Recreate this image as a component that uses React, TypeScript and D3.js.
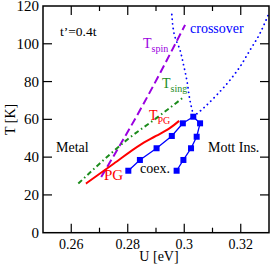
import React from "react";
import * as d3 from "d3";

const xMajorTicks = [0.26, 0.28, 0.3, 0.32];
const xMinorTicks = [0.27, 0.29, 0.31];
const yTicks = [0, 20, 40, 60, 80, 100, 120];

const coexU = [0.2802, 0.2843, 0.2902, 0.2956, 0.2995, 0.3032, 0.3056, 0.3044, 0.3024, 0.2997, 0.2973];
const coexT = [32.8, 38.5, 44.7, 51.2, 57.9, 61.4, 57.9, 50.8, 44.7, 38.5, 32.8];

const pgU = [0.2652, 0.275, 0.2843, 0.29, 0.295, 0.2982];
const pgT = [26, 36.5, 46.4, 51.2, 55.5, 59.2];

const singU = [0.2625, 0.27, 0.28, 0.29, 0.3];
const singT = [26, 36.5, 49.5, 60.5, 72];

const spinU = [0.2706, 0.2855, 0.3003];
const spinT = [29.5, 68, 110];

const crossLeftU = [0.2956, 0.2967, 0.2985, 0.2995, 0.3009, 0.302, 0.303, 0.3032];
const crossLeftT = [115.5, 103.7, 96.7, 90.5, 80.8, 70.2, 63.2, 61.4];

const crossRightU = [0.3032, 0.3067, 0.3115, 0.3162, 0.3197, 0.3233, 0.3268, 0.3297];
const crossRightT = [61.4, 65.8, 72.9, 80.8, 87.8, 96.7, 105.5, 115.2];

const W = 273, H = 266;
const L = 43, R = 269, T = 6, B = 232.7;
const FONT = "'Liberation Serif', 'Times New Roman', serif";

export default function App() {
  const x = d3.scaleLinear().domain([0.25, 0.33]).range([L, R]);
  const y = d3.scaleLinear().domain([0, 120]).range([B, T]);
  const line = (us: number[], ts: number[], curve = d3.curveLinear) =>
    d3.line<number>().x((_, i) => x(us[i])).y((_, i) => y(ts[i])).curve(curve)(us.map((_, i) => i)) || "";

  const blue = "#0000ff";
  return (
    <svg width={W} height={H} style={{ position: "absolute", left: 0, top: 0, background: "#fff" }} fontFamily={FONT}>
      <defs>
        <clipPath id="plot"><rect x={L} y={T} width={R - L} height={B - T} /></clipPath>
      </defs>
      <g clipPath="url(#plot)">
        <path d={line(crossLeftU, crossLeftT, d3.curveMonotoneY)} fill="none" stroke={blue} strokeWidth={1.8} strokeDasharray="0.1 4.6" strokeLinecap="round" />
        <path d={line(crossRightU, crossRightT, d3.curveMonotoneX)} fill="none" stroke={blue} strokeWidth={1.8} strokeDasharray="0.1 4.6" strokeLinecap="round" />
        <path d={line(spinU, spinT, d3.curveMonotoneX)} fill="none" stroke="#9a00e0" strokeWidth={2} strokeDasharray="8 4" />
        <path d={line(singU, singT, d3.curveMonotoneX)} fill="none" stroke="#1c8c1c" strokeWidth={2} strokeDasharray="5 3 1.5 3" />
        <path d={line(pgU, pgT, d3.curveMonotoneX)} fill="none" stroke="#ff0000" strokeWidth={2} />
        <path d={line(coexU, coexT)} fill="none" stroke={blue} strokeWidth={1.3} />
        {coexU.map((u, i) => (
          <rect key={i} x={x(u) - 3} y={y(coexT[i]) - 3} width={6} height={6} fill={blue} />
        ))}
      </g>
      {/* frame */}
      <rect x={L} y={T} width={R - L} height={B - T} fill="none" stroke="#000" strokeWidth={1.5} />
      {xMajorTicks.map((t) => (
        <g key={"xM" + t}>
          <line x1={x(t)} x2={x(t)} y1={B} y2={B - 9} stroke="#000" strokeWidth={1.2} />
          <line x1={x(t)} x2={x(t)} y1={T} y2={T + 9} stroke="#000" strokeWidth={1.2} />
          <text x={x(t)} y={249} textAnchor="middle" fontSize={14}>{String(t)}</text>
        </g>
      ))}
      {xMinorTicks.map((t) => (
        <g key={"xm" + t}>
          <line x1={x(t)} x2={x(t)} y1={B} y2={B - 5} stroke="#000" strokeWidth={1.2} />
          <line x1={x(t)} x2={x(t)} y1={T} y2={T + 5} stroke="#000" strokeWidth={1.2} />
        </g>
      ))}
      {yTicks.map((t) => (
        <g key={"y" + t}>
          {t > 0 && t < 120 && (
            <>
              <line x1={L} x2={L + 9} y1={y(t)} y2={y(t)} stroke="#000" strokeWidth={1.2} />
              <line x1={R} x2={R - 9} y1={y(t)} y2={y(t)} stroke="#000" strokeWidth={1.2} />
            </>
          )}
          <text x={39} y={y(t) + 5} textAnchor="end" fontSize={15}>{String(t)}</text>
        </g>
      ))}
      <text x={159} y={261} textAnchor="middle" fontSize={14}>U [eV]</text>
      <text transform={`translate(15,${(T + B) / 2}) rotate(-90)`} textAnchor="middle" fontSize={14}>T [K]</text>

      <text x={60} y={36} fontSize={13.5}>t’=0.4t</text>
      <text x={56} y={151.5} fontSize={14}>Metal</text>
      <text x={208} y={152} fontSize={14}>Mott Ins.</text>
      <text x={140} y={173} fontSize={14}>coex.</text>
      <text x={104} y={180} fontSize={15}>
        <tspan fill="#ff0000">PG</tspan>
      </text>
      <text x={190} y={33} fontSize={14} fill={blue}>crossover</text>
      <text x={143} y={48} fontSize={14} fill="#9a00e0">T<tspan fontSize={10} dy={4}>spin</tspan></text>
      <text x={162} y={88} fontSize={14} fill="#1c8c1c">T<tspan fontSize={10} dy={4}>sing</tspan></text>
      <text x={149} y={120} fontSize={14} fill="#ff0000">T<tspan fontSize={10} dy={4}>PG</tspan></text>
    </svg>
  );
}
